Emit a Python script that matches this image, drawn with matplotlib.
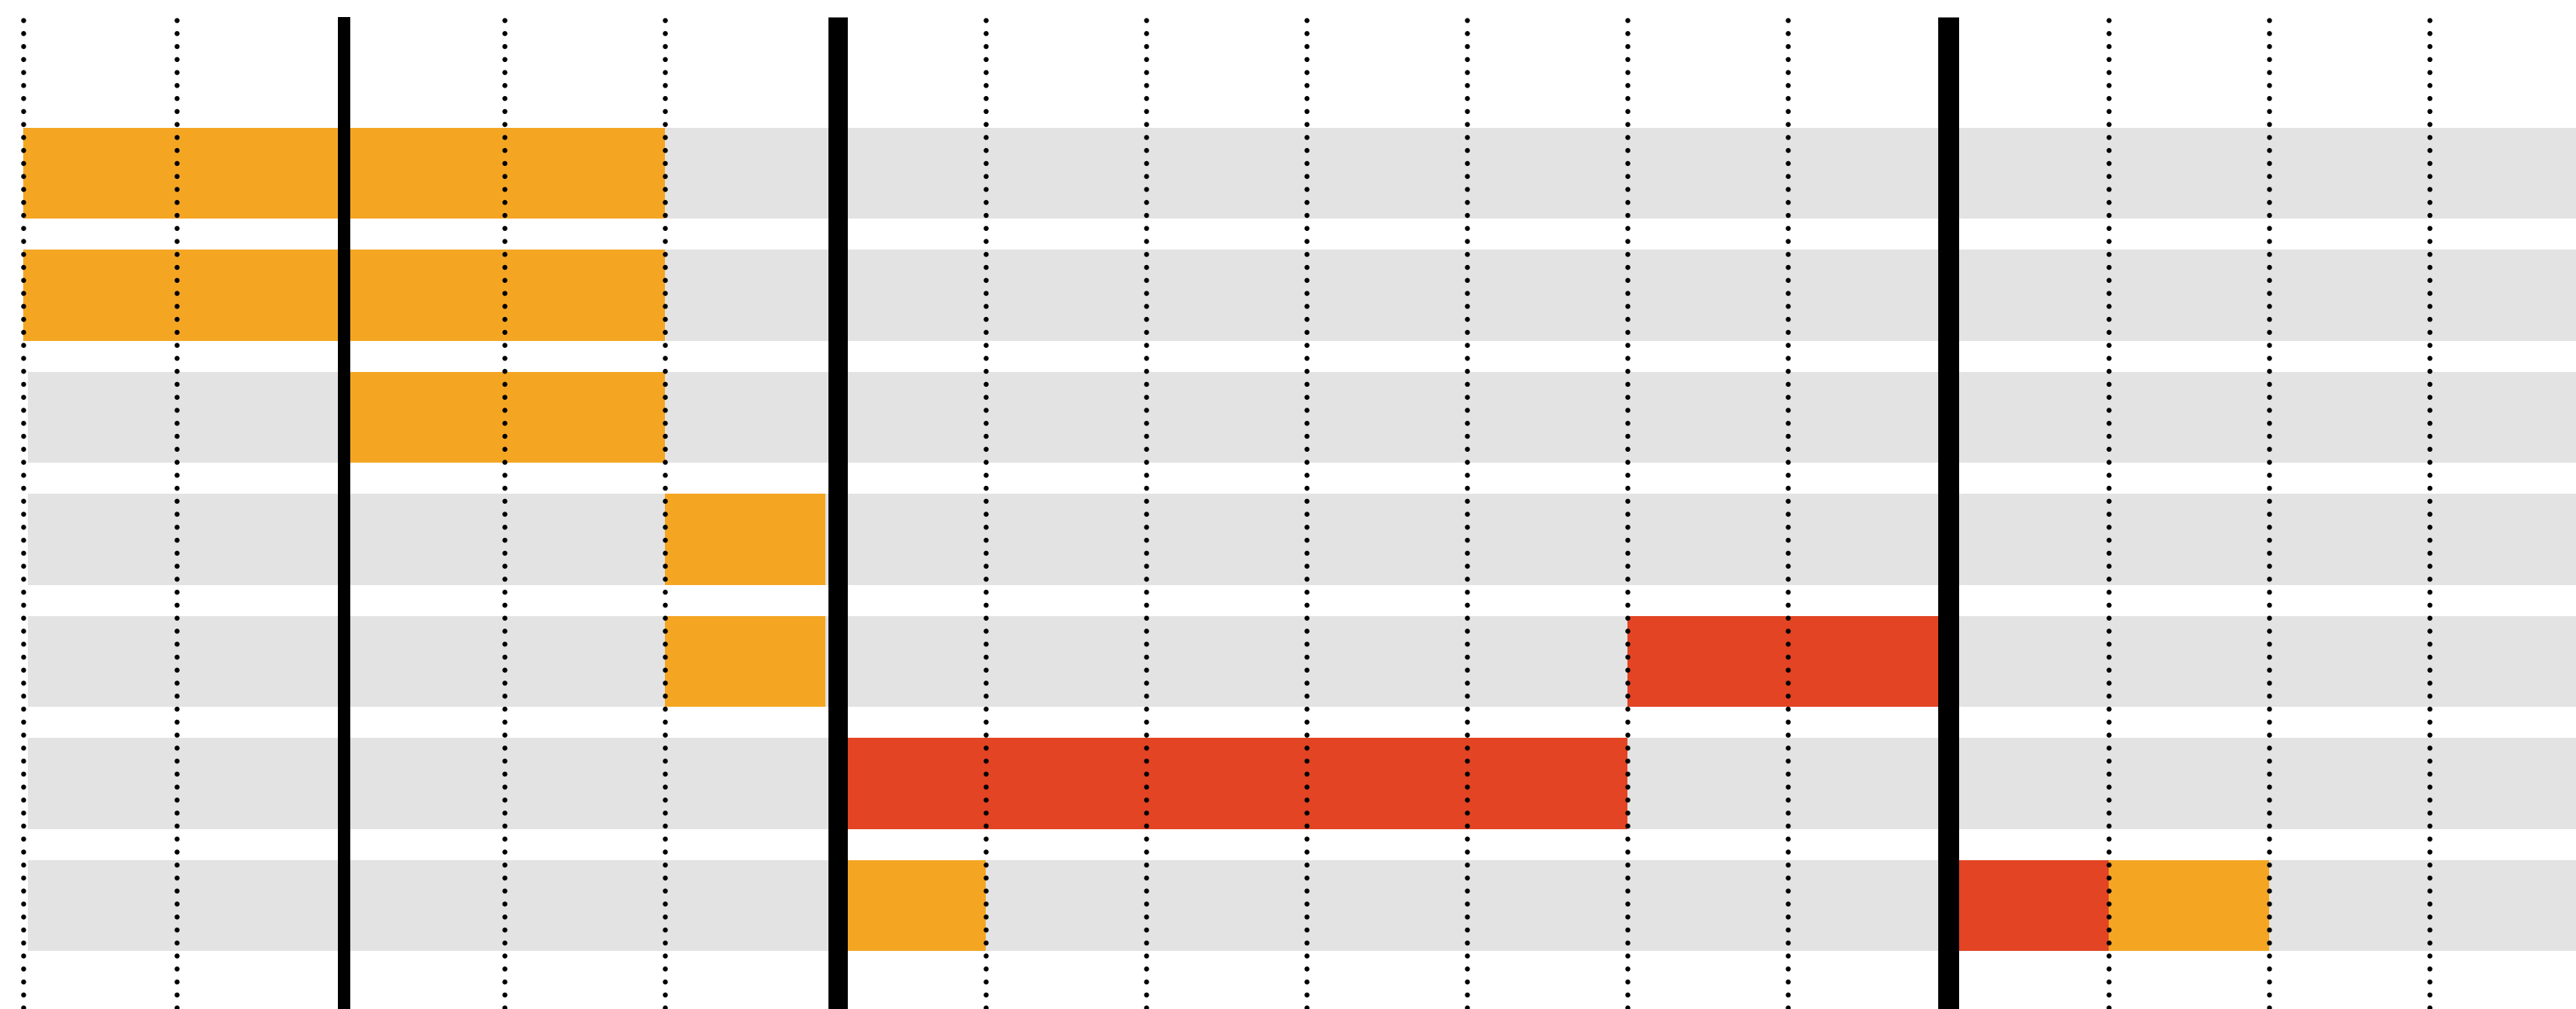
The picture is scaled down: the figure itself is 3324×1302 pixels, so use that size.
import matplotlib
matplotlib.use("Agg")
import matplotlib.pyplot as plt

# ---- data ----
rows = [0, 1, 2, 3, 4, 5, 6]                     # task rows, top to bottom
bar_rows   = [0, 1, 2, 3, 4, 4, 5, 6, 6, 6]
bar_starts = [0, 0, 2, 4, 4, 10, 5.13, 5.13, 12, 13]
bar_ends   = [4, 4, 4, 5, 5, 12, 10, 6, 13, 14]
bar_kinds  = ["orange", "orange", "orange", "orange", "orange",
              "red", "red", "orange", "red", "orange"]
grid_ticks = [0, 0.96, 3, 4, 6, 7, 8, 9, 10, 11, 13, 14, 15]
milestones = [2, 5.08, 12]

# ---- styles ----
DPI = 100
W, H = 3324, 1302
colors = {"orange": "#F4A623", "red": "#E24424"}
band_color = "#E3E3E3"
px_per_x = 207.0
x0_px = 29.7
row_pitch = 157.5
row0_px = 223.5
bar_h = 0.747
milestone_px = [16, 25, 27]
band_left = 0.03

fig = plt.figure(figsize=(W / DPI, H / DPI), dpi=DPI)
ax = fig.add_axes([0, 0, 1, 1])
ax.set_axis_off()
xmin = -x0_px / px_per_x
xmax = (W - x0_px) / px_per_x
ytop = -row0_px / row_pitch
ybot = (H - row0_px) / row_pitch
ax.set_xlim(xmin, xmax)
ax.set_ylim(ybot, ytop)

# background bands
ax.barh(rows, [xmax + 1 - band_left] * len(rows), left=band_left, height=bar_h,
        color=band_color, linewidth=0, zorder=1)

# task bars
widths = [e - s for s, e in zip(bar_starts, bar_ends)]
ax.barh(bar_rows, widths, left=bar_starts, height=bar_h,
        color=[colors[k] for k in bar_kinds], linewidth=0, zorder=2)

# dotted grid lines
line_top = (26 - row0_px) / row_pitch
dot_px = 6.5
lw_dot = dot_px * 72 / DPI
gap = 16.7 / dot_px
for gx in grid_ticks:
    ax.plot([gx, gx], [line_top, ybot + 0.5], color="black",
            linewidth=lw_dot, linestyle=(0, (0.01, gap)),
            dash_capstyle="round", zorder=3)

# milestone solid lines
mtop = (22 - row0_px) / row_pitch
for mx, wpx in zip(milestones, milestone_px):
    ax.plot([mx, mx], [mtop, ybot + 0.5], color="black",
            linewidth=wpx * 72 / DPI, solid_capstyle="butt", zorder=4)

fig.savefig("out.png", dpi=DPI, facecolor="white")
